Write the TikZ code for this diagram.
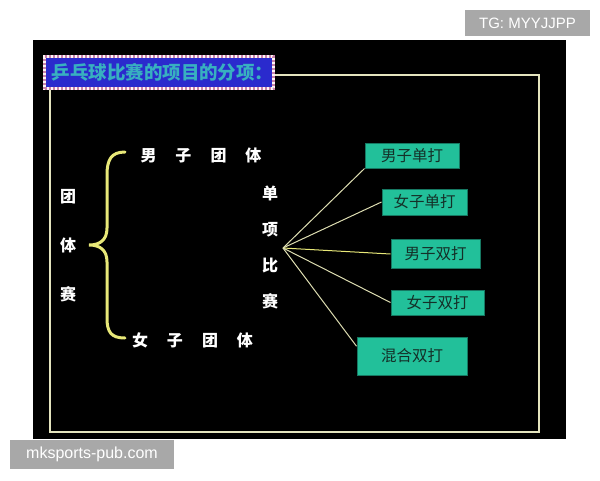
\documentclass[tikz,border=0pt]{standalone}
\usepackage{fontspec}
\setmainfont{Liberation Sans}
\newfontfamily\cjk{Noto Sans CJK SC}
\usetikzlibrary{positioning}
\definecolor{boxgreen}{RGB}{34,192,154}
\definecolor{boxedge}{RGB}{22,120,98}
\definecolor{boxtext}{RGB}{20,48,40}
\definecolor{frameline}{RGB}{228,228,190}
\definecolor{fanline}{RGB}{222,222,178}
\definecolor{braceyellow}{RGB}{232,232,120}
\definecolor{titleblue}{RGB}{42,42,205}
\definecolor{titletext}{RGB}{56,176,192}
\definecolor{dotpink}{RGB}{200,130,170}
\definecolor{wmgrey}{RGB}{168,168,168}
\tikzstyle{event}=[draw=boxedge, fill=boxgreen, line width=1pt, inner sep=0pt,
    text=boxtext, font=\cjk\fontsize{15.5}{15.5}\selectfont]
\newcommand{\event}{\node[event]}
\tikzstyle{hanzi}=[text=white, inner sep=0pt, align=center,
    font=\cjk\bfseries\fontsize{16}{16}\selectfont]
\tikzstyle{stamp}=[fill=wmgrey, text=white, inner sep=0pt]
\newcommand{\chgap}{\hspace{19pt}}

\begin{document}
\begin{tikzpicture}[x=1pt, y=-1pt
    ,every edge/.style={draw=fanline, line width=1pt}
]
\useasboundingbox[fill=white] (0,0) rectangle (600,480);
\fill[black] (33,40) rectangle (566,439);
\draw[frameline, line width=1.4pt] (50,75) rectangle (539,432);
% title
\node (title) [fill=titleblue, draw=white!85!pink, line width=3pt,
    minimum width=229pt, minimum height=32pt, inner sep=0pt,
    postaction={draw=dotpink, line width=3pt, dash pattern=on 2pt off 2pt}]
    at (159,72.5) {};
\node (heading) [text=titletext, inner sep=0pt,
    font=\cjk\bfseries\fontsize{18.5}{18.5}\selectfont] at (162.5,72)
    {乒乓球比赛的项目的分项：};
% team events
\node[hanzi, font=\cjk\bfseries\fontsize{16}{49}\selectfont] (team) at (68,246)
    {团\\体\\赛};
\node[hanzi] (men) at (201,155) {男\chgap 子\chgap 团\chgap 体};
\node[hanzi] (women) at (192.5,340) {女\chgap 子\chgap 团\chgap 体};
\draw[braceyellow, line width=3pt, line cap=round]
    (125,152) .. controls (111,152) and (107,160) .. (107,175) -- (107,228)
    .. controls (107,240) and (100,245) .. (89,245)
    .. controls (100,245) and (107,250) .. (107,262) -- (107,318)
    .. controls (107,332) and (111,338) .. (125,338);
% single events
\node[hanzi, font=\cjk\bfseries\fontsize{16}{36}\selectfont] (single) at (270,247.5)
    {单\\项\\比\\赛};
\coordinate (fan) at (283,248);
\event[minimum width=94pt, minimum height=25pt] (ms) at (412,155.5) {男子单打};
\event[minimum width=85pt, minimum height=26pt] (ws) at (424.5,202) {女子单打};
\event[minimum width=89pt, minimum height=29pt] (md) at (435.5,254) {男子双打};
\event[minimum width=93pt, minimum height=25pt] (wd) at (437.5,302.5) {女子双打};
\event[minimum width=110pt, minimum height=38pt] (xd) at (412,356) {混合双打};
\path
(fan) edge (ms.south west) edge (ws.west) edge[draw=braceyellow] (md.west)
      edge (wd.west) edge (xd.170)
;
% watermarks
\node[stamp, minimum width=125pt, minimum height=26pt,
    font=\fontsize{15}{15}\selectfont] (tg) at (527.5,23) {TG: MYYJJPP};
\node[stamp, minimum width=164pt, minimum height=29pt,
    font=\fontsize{16}{16}\selectfont] (site) at (92,454.5) {mksports-pub.com};
\end{tikzpicture}
\end{document}
